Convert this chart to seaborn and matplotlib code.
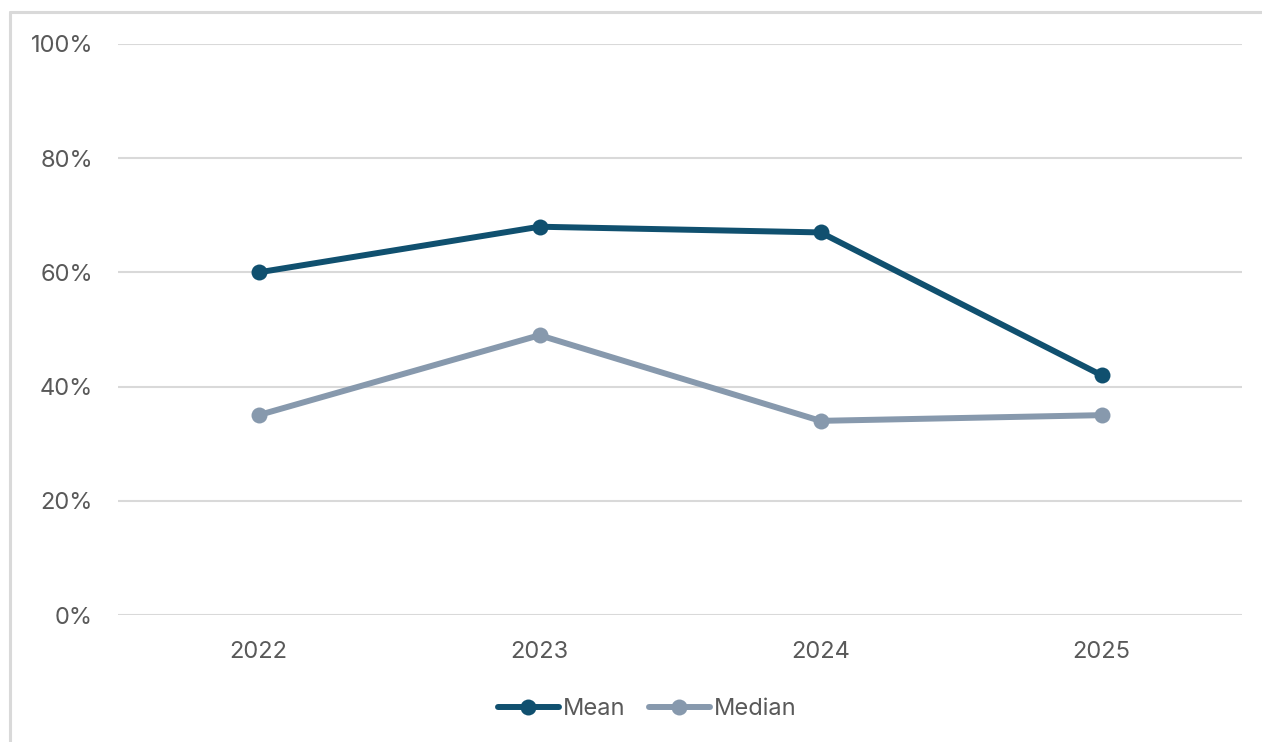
import matplotlib
matplotlib.use("Agg")
import matplotlib.pyplot as plt
from matplotlib.lines import Line2D
from matplotlib.ticker import PercentFormatter
import pandas as pd
import seaborn as sns

years = ["2022", "2023", "2024", "2025"]
mean_values = [60, 68, 67, 42]
median_values = [35, 49, 34, 35]
series_names = ["Mean", "Median"]
y_ticks = [0, 20, 40, 60, 80, 100]

df = pd.DataFrame({
    "year": years * 2,
    "value": mean_values + median_values,
    "series": [series_names[0]] * len(years) + [series_names[1]] * len(years),
})

sns.set_theme(style="white")
plt.rcParams["font.family"] = ["Inter", "DejaVu Sans"]

W, H = 1262, 742
fig = plt.figure(figsize=(W / 100, H / 100), dpi=100)
ax = fig.add_axes([118 / W, (H - 615) / H, (1242 - 118) / W, (615 - 44) / H])

palette = {"Mean": "#10506F", "Median": "#8799AD"}
sns.lineplot(data=df, x="year", y="value", hue="series", palette=palette,
             marker="o", markersize=11.5, markeredgewidth=0, linewidth=4.3,
             ax=ax, legend=True, zorder=3)

ax.set_xlim(-0.5, 3.5)
ax.set_ylim(0, 100)
ax.set_yticks(y_ticks)
ax.yaxis.set_major_formatter(PercentFormatter(decimals=0))
ax.set_xlabel("")
ax.set_ylabel("")
ax.grid(axis="y", color="#D9D9D9", linewidth=1.5)
ax.grid(axis="x", visible=False)
for s in ax.spines.values():
    s.set_visible(False)
ax.tick_params(axis="both", length=0, labelsize=17, labelcolor="#595959")
ax.tick_params(axis="y", pad=18)
ax.tick_params(axis="x", pad=19)

handles, labels = ax.get_legend_handles_labels()
ax.legend(handles, labels, loc="center", bbox_to_anchor=(647 / W, (H - 709) / H),
          bbox_transform=fig.transFigure, ncol=2, frameon=False,
          fontsize=17, labelcolor="#595959", handlelength=2.6,
          handletextpad=0.15, columnspacing=1.0)

# light frame around the chart area
frame_color = "#D9D9D9"
fig.add_artist(Line2D([10 / W, 10 / W], [0, (H - 12) / H], color=frame_color,
                      linewidth=2.2, transform=fig.transFigure))
fig.add_artist(Line2D([10 / W, 1], [(H - 12) / H, (H - 12) / H], color=frame_color,
                      linewidth=2.2, transform=fig.transFigure))

fig.savefig("out.png", dpi=100, facecolor="white")
